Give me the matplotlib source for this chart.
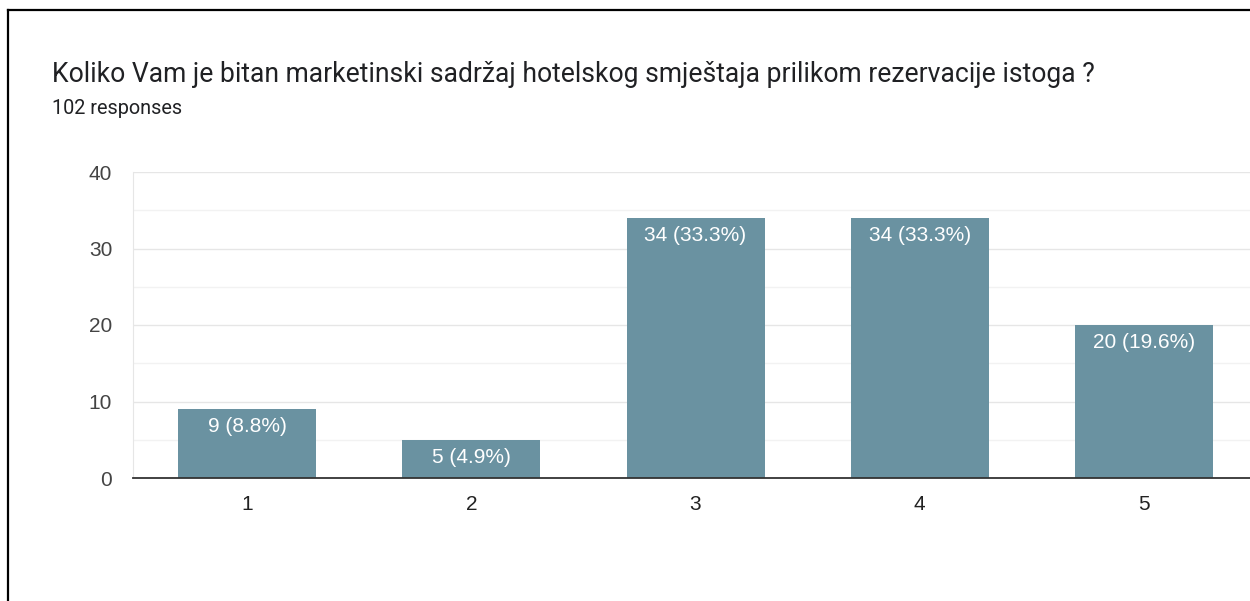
import matplotlib
matplotlib.use("Agg")
import matplotlib.pyplot as plt
from matplotlib.lines import Line2D

categories = ["1", "2", "3", "4", "5"]
counts = [9, 5, 34, 34, 20]
percents = ["8.8%", "4.9%", "33.3%", "33.3%", "19.6%"]
yticks = [0, 10, 20, 30, 40]
title = "Koliko Vam je bitan marketinski sadržaj hotelskog smještaja prilikom rezervacije istoga ?"
subtitle = "102 responses"

plt.rcParams['font.family'] = ['Roboto', 'DejaVu Sans']
chart_font = ['Liberation Sans', 'DejaVu Sans']

W, H = 1250, 601
fig = plt.figure(figsize=(W / 100, H / 100), dpi=100)

# outer card border
fig.add_artist(Line2D([8 / W, 8 / W], [0, 1 - 10 / H], transform=fig.transFigure, color='black', lw=1.6))
fig.add_artist(Line2D([8 / W, 1], [1 - 10 / H, 1 - 10 / H], transform=fig.transFigure, color='black', lw=1.6))

fig.text(52 / W, 1 - 74 / H, title, fontsize=19.1, color='#202124', va='center', ha='left')
fig.text(52 / W, 1 - 108 / H, subtitle, fontsize=14.3, color='#202124', va='center', ha='left')

ax_left, ax_right = 133, 1250
ax_bot, ax_top = 478, 172
ax = fig.add_axes([ax_left / W, 1 - ax_bot / H, (ax_right - ax_left) / W, (ax_bot - ax_top) / H])

step = 224.25
x = list(range(1, len(categories) + 1))
ax.bar(x, counts, width=138 / step, color='#6a92a1', zorder=3)
x0 = 1 - (247 - ax_left) / step
ax.set_xlim(x0, x0 + (ax_right - ax_left) / step)
ax.set_ylim(0, 40)

for xi, c, p in zip(x, counts, percents):
    ax.annotate(f"{c} ({p})", (xi, c), xytext=(0, -6), textcoords='offset points',
                ha='center', va='top', color='white', fontsize=15, family=chart_font, zorder=4)

ax.set_yticks(yticks)
ax.set_yticks([5, 15, 25, 35], minor=True)
ax.set_xticks(x)
ax.set_xticklabels(categories)
ax.tick_params(axis='both', which='both', length=0, labelsize=15)
ax.tick_params(axis='y', labelcolor='#444444', pad=15)
ax.tick_params(axis='x', labelcolor='#222222', pad=12)
for lab in ax.get_xticklabels() + ax.get_yticklabels():
    lab.set_family(chart_font)
ax.grid(axis='y', which='major', color='#e6e6e6', lw=1, zorder=0)
ax.grid(axis='y', which='minor', color='#f2f2f2', lw=1, zorder=0)
for s in ['top', 'right']:
    ax.spines[s].set_visible(False)
ax.spines['left'].set_color('#e6e6e6')
ax.spines['bottom'].set_color('#333333')
ax.spines['bottom'].set_linewidth(1.3)
ax.spines['bottom'].set_zorder(5)

fig.savefig('out.png', dpi=100, facecolor='white')
